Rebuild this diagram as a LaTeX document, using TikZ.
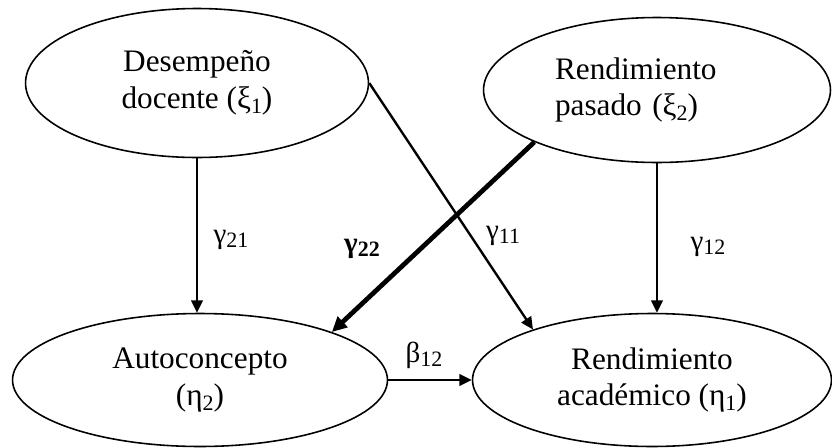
\documentclass[tikz,border=0pt]{standalone}
\usepackage{fontspec}
\setmainfont{Liberation Serif}
\usetikzlibrary{arrows.meta,positioning,shapes.geometric}
\newcommand{\sbs}[1]{\raisebox{-0.15em}{\fontsize{12.5}{12.5}\selectfont #1}}

\begin{document}
\begin{tikzpicture}[x=0.02cm,y=-0.02cm,
    lat/.style={draw,ellipse,line width=0.9pt,inner sep=0pt,align=center,font=\fontsize{17.8}{21}\selectfont},
    reg/.style={line width=1.35pt,-{Triangle[length=7pt,width=6.5pt]}},
    regb/.style={line width=2.7pt,-{Triangle[length=8.5pt,width=8pt]}},
    coef/.style={inner sep=0pt,font=\fontsize{16.5}{20}\selectfont}]
        \useasboundingbox (0,0) rectangle (832,447);
        % latent variables
        \node[lat,minimum width=6.86cm,minimum height=2.98cm] (dd) at (197,83) {Desempeño\\docente (ξ\sbs{1})};
        \node[lat,minimum width=6.94cm,minimum height=2.9cm,text width=4.08cm,align=left] (rp) at (657,90) {Rendimiento\\pasado (ξ\sbs{2})};
        \node[lat,minimum width=7.5cm,minimum height=2.66cm] (au) at (200,380) {Autoconcepto\\(η\sbs{2})};
        \node[lat,minimum width=7.18cm,minimum height=2.66cm] (ra) at (652,380) {Rendimiento\\académico (η\sbs{1})};
        % paths
        \draw[reg] (dd.south) -- (dd.south |- au.north);
        \draw[reg] (rp.south) -- (rp.south |- ra.north);
        \draw[reg] (dd.east) -- (ra.157);
        \draw[regb] (rp.203) -- (au.20);
        \draw[reg] (au.east) -- (ra.west);
        % coefficients
        \node[coef] (g21) at (231,240) {γ\sbs{21}};
        \node[coef] (g22) at (362,249) {\textbf{γ\sbs{22}}};
        \node[coef] (g11) at (503,236) {γ\sbs{11}};
        \node[coef] (g12) at (708,247) {γ\sbs{12}};
        \node[coef] (b12) at (424,355) {β\sbs{12}};
\end{tikzpicture}
\end{document}
